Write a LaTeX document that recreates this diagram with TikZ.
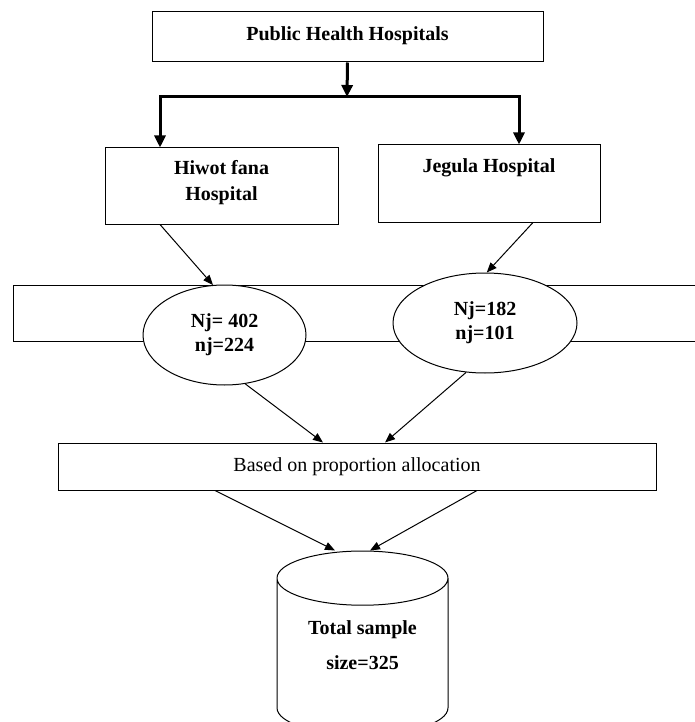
\documentclass[tikz,border=0pt]{standalone}
\usepackage{fontspec}
\setmainfont{Liberation Serif}
\usetikzlibrary{arrows.meta, shapes.geometric}
\tikzset{
  box/.style={draw, line width=1pt, rectangle, inner sep=0pt, align=center,
    font=\fontsize{20}{26}\selectfont\bfseries},
  strat/.style={draw, ellipse, fill=white, line width=1pt, inner sep=0pt, align=center,
    font=\fontsize{20}{24}\selectfont\bfseries},
  link/.style={line width=1pt, -{Triangle[length=10pt, width=8pt]}},
  trunk/.style={line width=3pt, -{Triangle[length=12pt, width=11pt]}}
}

\begin{document}
\begin{tikzpicture}[x=1pt, y=-1pt]
\useasboundingbox (0,0) rectangle (694,722);

% Top level
\node[box, minimum width=391pt, minimum height=50pt] (top) at (347.5,37) {Public Health Hospitals\\[-20pt]\mbox{}};
\coordinate (split) at (347,97);
\coordinate (lsplit) at (160,97);
\coordinate (rsplit) at (519,97);

% Hospitals
\node[box, minimum width=233pt, minimum height=76pt] (hiwot) at (221.5,186) {Hiwot fana\\Hospital\\[-14pt]\mbox{}};
\node[box, minimum width=222pt, minimum height=77pt] (jegula) at (489,183.5) {Jegula Hospital\\[10pt]\mbox{}};

% Branches
\draw[trunk] (top.south) -- (split);
\draw[line width=3pt, {Triangle[length=12pt, width=11pt]}-{Triangle[length=12pt, width=11pt]}]
  (hiwot.north -| lsplit) |- (split) -| (jegula.north -| rsplit);

% Strata
\node[draw, line width=1pt, minimum width=692pt, minimum height=56pt] (strata) at (359,313) {};
\node[strat, minimum width=163pt, minimum height=100pt] (hfstrat) at (224.5,335) {Nj= 402\\nj=224};
\node[strat, minimum width=184pt, minimum height=100pt] (jgstrat) at (485,323) {Nj=182\\nj=101};

\draw[link] ([xshift=-61.5pt]hiwot.south) -- (hfstrat.103);
\draw[link] ([xshift=44pt]jegula.south) -- (jgstrat.88);

% Allocation
\node[draw, line width=1pt, minimum width=598pt, minimum height=47pt,
  font=\fontsize{20}{24}\selectfont] (based) at (357,466.5) {Based on proportion allocation};

\draw[link] (hfstrat.293) -- ([xshift=-34pt]based.north);
\draw[link] (jgstrat.249) -- ([xshift=28pt]based.north);

% Total
\node[draw, cylinder, shape border rotate=90, line width=1pt, aspect=0.47,
  minimum width=171pt, minimum height=184pt, align=center, anchor=shape center,
  text height=33.8pt, text depth=15.2pt,
  font=\fontsize{20}{35}\selectfont\bfseries] (total) at (362.5,643) {Total sample\\size=325};

\draw[link] ([xshift=-142pt]based.south) -- ([xshift=-27.5pt]total.north);
\draw[link] ([xshift=120pt]based.south) -- ([xshift=7.5pt]total.north);
\end{tikzpicture}
\end{document}
